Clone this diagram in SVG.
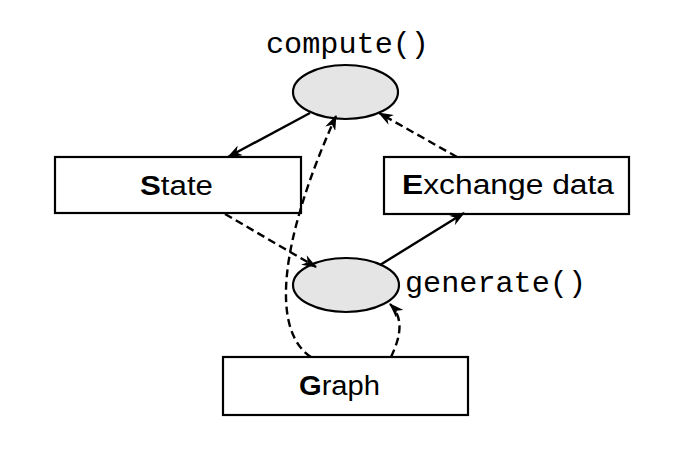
<svg xmlns="http://www.w3.org/2000/svg" width="673" height="451" viewBox="0 0 673 451">
<style>
.box{fill:#fff;stroke:#000;stroke-width:2.2}
.ell{fill:#e5e5e5;stroke:#000;stroke-width:2.2}
.lbl{font-family:"Liberation Sans",Arial,sans-serif;font-size:27px;fill:#000}
.b{font-weight:bold}
.code{font-family:"Liberation Mono","Courier New",monospace;font-size:29px;fill:#000;font-weight:normal}
.c{fill:none;stroke:#000;stroke-width:2.4}
.d{stroke-dasharray:8,4.5}
</style>
<defs>
<marker id="ah" viewBox="0 0 15 11" markerWidth="15" markerHeight="11" refX="14" refY="5.5" orient="auto" markerUnits="userSpaceOnUse">
<path d="M0,0 L15,5.5 L0,11 L4.5,5.5 z" fill="#000"/>
</marker>
</defs>
<rect width="673" height="451" fill="#fff"/>
<g id="compute">
<ellipse class="ell" cx="345.5" cy="92" rx="52.5" ry="27"/>
<text class="code" x="266" y="53" textLength="163" lengthAdjust="spacingAndGlyphs">compute()</text>
</g>
<g id="state">
<rect class="box" x="55" y="157" width="246" height="56"/>
<text class="lbl" x="140" y="195" textLength="73" lengthAdjust="spacingAndGlyphs"><tspan class="b">S</tspan>tate</text>
</g>
<g id="exchange">
<rect class="box" x="384" y="157" width="245" height="57"/>
<text class="lbl" x="402" y="194" textLength="212" lengthAdjust="spacingAndGlyphs"><tspan class="b">E</tspan>xchange data</text>
</g>
<g id="generate">
<ellipse class="ell" cx="346" cy="285" rx="53" ry="27"/>
<text class="code" x="405" y="292" textLength="181" lengthAdjust="spacingAndGlyphs">generate()</text>
</g>
<g id="graph">
<rect class="box" x="223" y="357" width="245" height="58"/>
<text class="lbl" x="299" y="395" textLength="81" lengthAdjust="spacingAndGlyphs"><tspan class="b">G</tspan>raph</text>
</g>
<g id="connectors">
<path class="c" d="M310,113 L228,157" marker-end="url(#ah)"/>
<path class="c d" d="M457,157 L379,113" marker-end="url(#ah)"/>
<path class="c d" d="M225,214 L316,267" marker-end="url(#ah)"/>
<path class="c" d="M380,265 L464,213" marker-end="url(#ah)"/>
<path class="c d" d="M311,357 C270,330 280,240 336,116" marker-end="url(#ah)"/>
<path class="c d" d="M391,357 C401,336 404,318 390,304" marker-end="url(#ah)"/>
</g>
</svg>
